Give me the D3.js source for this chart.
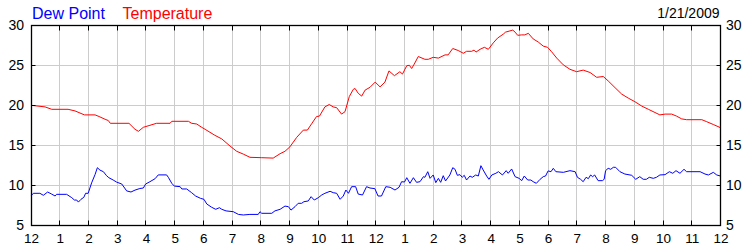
<!DOCTYPE html>
<html><head><meta charset="utf-8">
<script src="https://cdn.jsdelivr.net/npm/d3@7"></script>
<style>html,body{margin:0;padding:0;background:#fff;}svg{display:block;}</style>
</head><body>
<svg id="chart" width="750" height="250"></svg>
<script>
// hours since midnight (0..24) and readings
const xTickLabels = ["12","1","2","3","4","5","6","7","8","9","10","11","12","1","2","3","4","5","6","7","8","9","10","11","12"];
const yTicks = [5,10,15,20,25,30];
const seriesNames = ["Dew Point","Temperature"];
const dateLabel = "1/21/2009";

const tempHours = [0,0.49,0.72,1.29,1.53,1.86,2.23,2.37,2.58,2.69,2.76,3.41,3.62,3.74,3.91,4.14,4.37,4.84,4.9,5.48,5.59,5.77,5.94,6.06,6.4,6.64,6.93,7.16,7.39,7.62,8.03,8.43,8.67,8.84,9.01,9.25,9.48,9.62,9.77,9.94,10.04,10.23,10.38,10.52,10.64,10.81,10.93,11.08,11.22,11.28,11.39,11.51,11.63,11.8,11.98,12.15,12.32,12.46,12.65,12.84,12.93,13.08,13.17,13.25,13.34,13.48,13.71,13.83,14.0,14.18,14.41,14.52,14.68,14.87,15.05,15.16,15.34,15.42,15.49,15.63,15.78,15.92,16.09,16.24,16.44,16.52,16.67,16.77,16.85,16.94,17.08,17.19,17.31,17.48,17.66,17.83,17.98,18.12,18.3,18.53,18.76,18.99,19.22,19.46,19.69,19.92,20.09,20.33,20.56,20.79,21.02,21.26,21.49,21.72,21.89,22.07,22.3,22.47,22.65,22.82,23.35,23.52,23.75,24];
const tempValues = [20.0,19.8,19.5,19.5,19.3,18.8,18.8,18.6,18.25,18.1,17.75,17.75,17.0,16.75,17.25,17.5,17.75,17.75,18.0,18.0,17.75,17.66,17.25,17.0,16.25,15.8,14.9,14.25,13.9,13.5,13.45,13.4,13.95,14.25,14.8,16.0,16.9,16.9,17.7,18.6,18.65,19.8,20.1,19.8,19.7,18.9,19.2,21.1,22.0,22.1,21.5,21.15,21.9,22.25,22.9,22.3,22.9,24.3,23.7,24.2,23.9,24.95,25.0,24.6,25.15,26.1,25.75,25.75,26.0,25.9,26.3,26.3,27.1,26.85,26.5,26.75,26.75,26.9,26.65,27.0,27.25,27.0,27.8,28.4,28.9,29.15,29.3,29.4,29.15,28.75,28.8,28.8,29.0,28.3,27.9,27.4,27.25,26.7,25.9,25.05,24.5,24.2,24.4,24.1,23.5,23.6,23.05,22.2,21.4,20.9,20.45,19.9,19.5,19.1,18.8,18.9,18.9,18.65,18.3,18.2,18.2,17.95,17.6,17.2];

const dewHours = [0,0.08,0.31,0.43,0.58,0.72,0.84,0.89,1.24,1.42,1.51,1.59,1.65,1.74,1.84,1.9,1.99,2.11,2.23,2.31,2.4,2.52,2.63,2.71,2.86,2.98,3.16,3.33,3.48,3.62,3.79,3.91,3.99,4.14,4.32,4.43,4.72,4.78,4.9,4.99,5.19,5.25,5.42,5.59,5.73,5.9,6.02,6.12,6.29,6.43,6.56,6.64,6.79,7.04,7.22,7.39,7.62,7.91,7.97,8.03,8.38,8.49,8.67,8.84,8.96,9.05,9.19,9.3,9.42,9.5,9.65,9.75,9.86,10.0,10.12,10.23,10.41,10.52,10.64,10.76,10.87,10.96,11.05,11.16,11.3,11.39,11.54,11.68,11.8,11.97,12.08,12.2,12.35,12.5,12.67,12.81,12.9,13.0,13.08,13.19,13.31,13.42,13.54,13.66,13.71,13.81,13.89,14.0,14.09,14.18,14.26,14.35,14.43,14.58,14.68,14.76,14.84,14.93,15.01,15.08,15.16,15.28,15.36,15.48,15.57,15.66,15.74,15.86,15.94,16.04,16.18,16.27,16.41,16.54,16.61,16.73,16.85,16.99,17.08,17.17,17.29,17.4,17.48,17.59,17.72,17.83,17.91,18.0,18.1,18.18,18.27,18.53,18.76,18.94,19.02,19.13,19.22,19.32,19.4,19.48,19.55,19.62,19.74,19.89,19.95,20.0,20.09,20.18,20.27,20.35,20.5,20.67,20.91,21.05,21.19,21.31,21.42,21.52,21.66,21.77,21.89,22.07,22.22,22.34,22.45,22.59,22.73,22.82,23.29,23.46,23.58,23.75,23.87,24];
const dewValues = [8.66,9.0,9.0,8.75,9.16,8.9,8.66,8.87,8.87,8.45,8.16,8.16,7.9,8.25,8.5,9.0,9.0,10.3,11.35,12.2,11.9,11.7,11.2,10.95,10.66,10.4,10.16,9.3,9.16,9.4,9.6,9.66,10.16,10.45,10.83,11.3,11.3,11.0,10.25,9.9,9.83,9.54,9.54,9.08,8.66,8.37,8.25,7.66,7.25,7.0,7.2,7.0,6.8,6.7,6.36,6.29,6.36,6.36,6.7,6.5,6.5,6.8,7.0,7.4,7.33,6.9,7.33,7.75,7.75,7.95,8.04,8.58,8.16,8.45,8.79,9.0,9.25,9.08,9.0,8.25,8.66,9.41,9.0,9.83,9.83,8.9,8.79,9.83,9.66,9.58,8.66,8.66,9.83,9.75,9.41,9.75,10.45,10.41,10.95,10.25,10.95,10.37,10.45,11.08,11.0,11.7,10.87,11.29,10.33,10.87,10.37,11.2,10.54,11.29,12.2,12.0,11.25,11.33,11.0,11.25,10.66,11.16,11.0,11.29,11.16,12.45,11.91,11.16,10.75,11.29,11.5,11.7,11.29,11.83,11.5,12.04,11.08,10.87,10.58,11.16,10.66,10.66,10.45,10.25,10.75,11.08,11.16,11.8,11.7,12.12,11.7,11.62,11.83,11.7,11.0,10.75,10.45,11.0,10.83,11.29,11.08,11.29,10.58,10.58,10.75,11.83,12.12,12.0,12.25,12.25,11.7,11.41,11.25,10.75,11.08,10.75,10.75,11.0,10.87,11.0,11.29,11.33,11.7,11.5,11.83,11.5,12.0,11.7,11.7,11.41,11.29,11.62,11.29,11.16];

const svg = d3.select("#chart");
const x = d3.scaleLinear().domain([0,24]).range([31,720.5]);
const y = d3.scaleLinear().domain([5,30]).range([225.3,25.3]);
const crisp = v => Math.floor(v)+0.5;
const font = "'Liberation Sans', Arial, sans-serif";

// grid
const hourTicks = d3.range(0,25);
svg.append("g").selectAll("line").data(hourTicks.slice(1,24)).join("line")
  .attr("x1",d=>crisp(x(d))).attr("x2",d=>crisp(x(d)))
  .attr("y1",y(30)).attr("y2",y(5)).attr("stroke","#cccccc").attr("stroke-width",1);
svg.append("g").selectAll("line").data(yTicks.slice(1,5)).join("line")
  .attr("y1",d=>crisp(y(d))).attr("y2",d=>crisp(y(d)))
  .attr("x1",x(0)).attr("x2",x(24)).attr("stroke","#cccccc").attr("stroke-width",1);

// lines
const line = d3.line().x(d=>x(d[0])).y(d=>y(d[1]));
svg.append("path").datum(dewHours.map((h,i)=>[h,dewValues[i]]))
  .attr("d",line).attr("fill","none").attr("stroke","#0000ff").attr("stroke-width",1);
svg.append("path").datum(tempHours.map((h,i)=>[h,tempValues[i]]))
  .attr("d",line).attr("fill","none").attr("stroke","#ff0000").attr("stroke-width",1);

// frame
const L = crisp(x(0)), R = crisp(x(24)), T = crisp(y(30)), B = crisp(y(5));
svg.append("rect").attr("x",L).attr("y",T).attr("width",R-L).attr("height",B-T)
  .attr("fill","none").attr("stroke","#000").attr("stroke-width",1.3);

// ticks on frame
const tk = svg.append("g").attr("stroke","#000").attr("stroke-width",1);
hourTicks.slice(1,24).forEach(h=>{
  const xx = crisp(x(h));
  tk.append("line").attr("x1",xx).attr("x2",xx).attr("y1",T).attr("y2",T+5);
  tk.append("line").attr("x1",xx).attr("x2",xx).attr("y1",B).attr("y2",B-5);
});
yTicks.slice(1,5).forEach(v=>{
  const yy = crisp(y(v));
  tk.append("line").attr("x1",L).attr("x2",L+4).attr("y1",yy).attr("y2",yy);
  tk.append("line").attr("x1",R).attr("x2",R-4).attr("y1",yy).attr("y2",yy);
});

// x labels
svg.append("g").selectAll("text").data(xTickLabels).join("text")
  .attr("x",(d,i)=>x(i)+0.5).attr("y",243).attr("text-anchor","middle")
  .attr("font-family",font).attr("font-size",13.5).attr("fill","#000").text(d=>d);
// y labels
svg.append("g").selectAll("text").data(yTicks).join("text")
  .attr("x",24).attr("y",d=>y(d)+4.7).attr("text-anchor","end")
  .attr("font-family",font).attr("font-size",14).attr("fill","#000").text(d=>d);
svg.append("g").selectAll("text").data(yTicks).join("text")
  .attr("x",726).attr("y",d=>y(d)+4.7).attr("text-anchor","start")
  .attr("font-family",font).attr("font-size",14).attr("fill","#000").text(d=>d);

// legend
svg.append("text").attr("x",32).attr("y",18.5).attr("font-family",font).attr("font-size",16)
  .attr("fill","#0000ff").text(seriesNames[0]);
svg.append("text").attr("x",122.5).attr("y",18.5).attr("font-family",font).attr("font-size",16)
  .attr("fill","#ff0000").text(seriesNames[1]);
svg.append("text").attr("x",719.5).attr("y",17.5).attr("text-anchor","end").attr("font-family",font).attr("font-size",14)
  .attr("fill","#000").text(dateLabel);
</script>
</body></html>
